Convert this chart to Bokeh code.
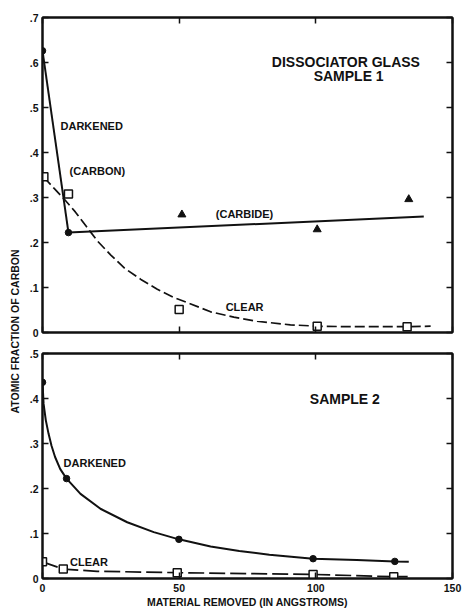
from math import pi
from bokeh.plotting import figure
from bokeh.models import LinearAxis, Range1d, FixedTicker, Label
from bokeh.layouts import row, column
from bokeh.embed import file_html
from bokeh.resources import INLINE

# ---------------- data ----------------
X_TICKS = [0, 50, 100, 150]
X_LABELS = ["0", "50", "100", "150"]
Y1_TICKS = [0, 0.1, 0.2, 0.3, 0.4, 0.5, 0.6, 0.7]
Y1_LABELS = ["0", ".1", ".2", ".3", ".4", ".5", ".6", ".7"]
Y2_TICKS = [0, 0.1, 0.2, 0.3, 0.4, 0.5]
Y2_LABELS = ["0", ".1", ".2", ".3", ".4", ".5"]

# Sample 1
s1_dark_x = [0, 9.5]
s1_dark_y = [0.626, 0.222]
s1_carbide_x = [51, 100.5, 134]
s1_carbide_y = [0.262, 0.229, 0.296]
s1_carbide_fit_x = [9.5, 139.5]
s1_carbide_fit_y = [0.222, 0.258]
s1_clear_x = [0.5, 9.5, 50, 100.5, 133.4]
s1_clear_y = [0.346, 0.308, 0.051, 0.014, 0.013]
s1_clear_curve_x = [0.5, 4, 8, 12, 16, 20, 25, 30, 36, 42, 48, 54, 61.5, 70, 78.5, 90.7,
                    100.5, 111.5, 133.4, 142]
s1_clear_curve_y = [0.345, 0.322, 0.296, 0.268, 0.236, 0.204, 0.172, 0.143, 0.118, 0.096,
                    0.078, 0.064, 0.046, 0.034, 0.025, 0.017, 0.014, 0.013, 0.013, 0.014]

# Sample 2
s2_dark_x = [0, 8.8, 49.9, 99, 128.9]
s2_dark_y = [0.436, 0.222, 0.087, 0.044, 0.038]
s2_dark_curve_x = [0, 0.4, 1.2, 2.2, 3.3, 4.6, 6.5, 8.8, 13.9, 21.2, 31, 40.7, 49.9, 61.5,
                   72, 83, 99, 115, 128.9, 134]
s2_dark_curve_y = [0.436, 0.388, 0.352, 0.322, 0.295, 0.270, 0.243, 0.222, 0.188, 0.155,
                   0.125, 0.103, 0.087, 0.071, 0.061, 0.053, 0.044, 0.041, 0.038, 0.037]
s2_clear_x = [0, 7.6, 49.3, 99, 128.5]
s2_clear_y = [0.037, 0.021, 0.013, 0.009, 0.004]
s2_clear_curve_x = [0, 7.6, 20, 49.3, 99, 128.5, 133.6]
s2_clear_curve_y = [0.037, 0.021, 0.016, 0.013, 0.009, 0.004, 0.004]

FONT = "Liberation Sans"
INK = "#111111"


def setup(p, yticks, ylabels, show_x_labels):
    p.outline_line_color = INK
    p.outline_line_width = 2
    p.grid.visible = False
    p.background_fill_color = "white"
    p.border_fill_color = "white"
    p.add_layout(LinearAxis(), "right")
    p.add_layout(LinearAxis(), "above")
    for ax in p.xaxis:
        ax.ticker = FixedTicker(ticks=X_TICKS)
    for ax in p.yaxis:
        ax.ticker = FixedTicker(ticks=yticks)
    for ax in p.axis:
        ax.axis_line_color = INK
        ax.axis_line_width = 2
        ax.major_tick_in = 6
        ax.major_tick_out = 0
        ax.major_tick_line_width = 1.5
        ax.major_tick_line_color = INK
        ax.minor_tick_in = 0
        ax.minor_tick_out = 0
        ax.major_label_text_font = FONT
        ax.major_label_text_font_style = "bold"
        ax.major_label_text_font_size = "1px"
        ax.major_label_text_color = None
        ax.major_label_standoff = 0
    left = p.left[0]
    left.major_label_overrides = dict(zip(yticks, ylabels))
    left.major_label_text_font_size = "10.5px"
    left.major_label_text_color = INK
    left.major_label_standoff = 4
    if show_x_labels:
        below = p.below[0]
        below.major_label_overrides = dict(zip(X_TICKS, X_LABELS))
        below.major_label_text_font_size = "10.5px"
        below.major_label_text_color = INK
        below.major_label_standoff = 5
        below.axis_label = "MATERIAL REMOVED (IN ANGSTROMS)"
        below.axis_label_text_font = FONT
        below.axis_label_text_font_style = "bold"
        below.axis_label_text_font_size = "10.5px"
        below.axis_label_text_color = INK
        below.axis_label_standoff = 1


def lab(p, text, x, y, size="11px", align="left"):
    p.add_layout(Label(x=x, y=y, text=text, text_font=FONT, text_font_style="bold",
                       text_font_size=size, text_color=INK, text_align=align,
                       text_baseline="middle"))


W_MAIN = 440

# ---------------- top panel: sample 1 ----------------
p1 = figure(width=W_MAIN, height=342, x_range=Range1d(0, 150), y_range=Range1d(0, 0.7),
            output_backend="svg", toolbar_location=None,
            min_border_left=20, min_border_right=10, min_border_top=17, min_border_bottom=10)
setup(p1, Y1_TICKS, Y1_LABELS, False)

p1.line(s1_clear_curve_x, s1_clear_curve_y, line_color=INK, line_width=1.7, line_dash="10 4")
p1.line(s1_dark_x, s1_dark_y, line_color=INK, line_width=2)
p1.line(s1_carbide_fit_x, s1_carbide_fit_y, line_color=INK, line_width=2)
p1.scatter(s1_dark_x, s1_dark_y, marker="circle", size=6.5, fill_color=INK, line_color=INK)
p1.scatter(s1_carbide_x, s1_carbide_y, marker="triangle", size=8, fill_color=INK, line_color=INK)
p1.scatter(s1_clear_x, s1_clear_y, marker="square", size=8, fill_color="white",
           line_color=INK, line_width=1.5)

lab(p1, "DISSOCIATOR GLASS", 111, 0.602, "14px", "center")
lab(p1, "SAMPLE 1", 112, 0.571, "14px", "center")
lab(p1, "DARKENED", 6.6, 0.458)
lab(p1, "(CARBON)", 9.9, 0.358)
lab(p1, "(CARBIDE)", 63.4, 0.264)
lab(p1, "CLEAR", 67, 0.056)

# ---------------- bottom panel: sample 2 ----------------
p2 = figure(width=W_MAIN, height=268, x_range=Range1d(0, 150), y_range=Range1d(0, 0.5),
            output_backend="svg", toolbar_location=None,
            min_border_left=20, min_border_right=10, min_border_top=11, min_border_bottom=32)
setup(p2, Y2_TICKS, Y2_LABELS, True)

p2.line(s2_clear_curve_x, s2_clear_curve_y, line_color=INK, line_width=1.7, line_dash="16 5")
p2.line(s2_dark_curve_x, s2_dark_curve_y, line_color=INK, line_width=2)
p2.scatter(s2_dark_x, s2_dark_y, marker="circle", size=6.5, fill_color=INK, line_color=INK)
p2.scatter(s2_clear_x, s2_clear_y, marker="square", size=8, fill_color="white",
           line_color=INK, line_width=1.5)

lab(p2, "SAMPLE 2", 110.6, 0.40, "14px", "center")
lab(p2, "DARKENED", 7.7, 0.256)
lab(p2, "CLEAR", 10.1, 0.036)

# ---------------- shared y-axis title ----------------
pl = figure(width=22, height=610, x_range=Range1d(0, 22), y_range=Range1d(0, 610),
            x_axis_type=None, y_axis_type=None, output_backend="svg", toolbar_location=None,
            min_border=0)
pl.outline_line_color = None
pl.grid.visible = False
pl.add_layout(Label(x=14, y=279, text="ATOMIC FRACTION OF CARBON", angle=pi / 2,
                    text_font=FONT, text_font_style="bold", text_font_size="10.5px",
                    text_color=INK, text_align="center", text_baseline="middle"))

layout = row(pl, column(p1, p2))

open("out.html", "w").write(file_html(layout, INLINE))
